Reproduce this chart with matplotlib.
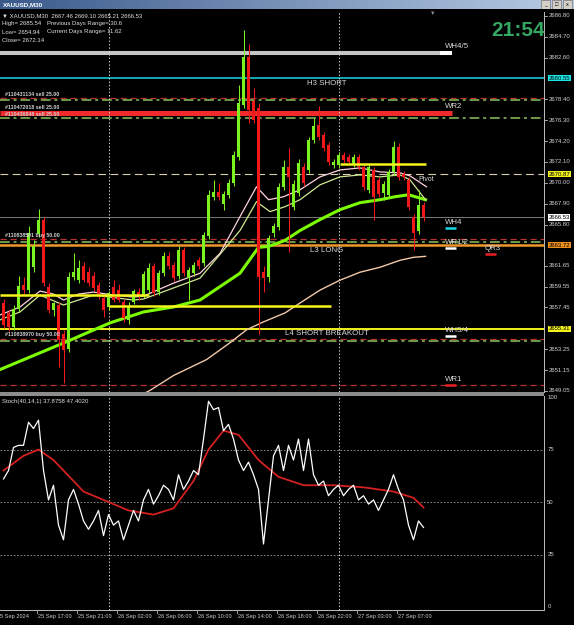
import matplotlib
matplotlib.use("Agg")
import matplotlib.pyplot as plt
import matplotlib.transforms as mtransforms
from matplotlib.patches import Rectangle
from matplotlib.colors import LinearSegmentedColormap
import numpy as np

plt.rcParams['font.family'] = ['Liberation Sans', 'DejaVu Sans']

# XAUUSD M30 candles (bar 0 = 25 Sep 13:00)
opens = [2657.9, 2656.9, 2655.5, 2657.3, 2659.7, 2659.2, 2661.5, 2664.8, 2666.3, 2659.5,
         2657.2, 2657.7, 2654.8, 2653.3, 2660.5, 2660.2, 2661.6, 2661.0, 2660.6, 2659.7,
         2658.4, 2657.5, 2659.5, 2659.2, 2658.0, 2656.2, 2658.0, 2659.0, 2658.7, 2659.2,
         2661.6, 2659.0, 2660.9, 2662.6, 2661.7, 2660.6, 2663.2, 2660.4, 2660.9, 2662.2,
         2661.9, 2664.6, 2668.6, 2669.1, 2667.9, 2668.8, 2670.0, 2672.6, 2677.8, 2682.7,
         2678.2, 2677.5, 2661.0, 2660.5, 2664.9, 2665.6, 2669.6, 2671.6, 2667.6, 2669.0,
         2671.6, 2671.3, 2674.3, 2675.8, 2674.8, 2673.8, 2671.8, 2671.8, 2672.8, 2672.6,
         2671.9, 2672.6, 2671.6, 2669.3, 2671.3, 2670.3, 2669.0, 2668.8, 2671.1, 2673.6,
         2670.9, 2670.3, 2666.6, 2665.1, 2667.8]
highs = [2658.3, 2657.2, 2657.7, 2660.6, 2660.5, 2665.7, 2664.2, 2667.4, 2666.6, 2659.9,
         2658.0, 2658.0, 2655.2, 2661.0, 2662.9, 2662.2, 2662.0, 2661.5, 2661.0, 2660.0,
         2658.7, 2659.1, 2660.2, 2659.8, 2658.3, 2658.0, 2659.3, 2659.4, 2661.1, 2661.9,
         2661.9, 2661.2, 2663.0, 2663.0, 2662.0, 2663.6, 2663.5, 2661.5, 2662.0, 2662.5,
         2665.0, 2669.3, 2670.3, 2670.0, 2669.2, 2670.4, 2673.2, 2679.9, 2685.4, 2684.0,
         2679.5, 2678.0, 2661.6, 2664.7, 2666.0, 2670.0, 2672.3, 2673.5, 2670.3, 2672.4,
         2672.0, 2674.6, 2676.5, 2677.7, 2675.1, 2674.1, 2672.4, 2673.1, 2673.1, 2672.9,
         2672.9, 2672.9, 2671.9, 2671.9, 2671.6, 2670.6, 2670.2, 2671.4, 2674.2, 2674.0,
         2671.2, 2670.6, 2666.9, 2669.3, 2668.1]
lows = [2655.4, 2655.1, 2655.2, 2657.0, 2658.8, 2658.9, 2661.0, 2664.5, 2659.6, 2656.9,
        2656.6, 2651.5, 2649.8, 2653.0, 2660.2, 2659.9, 2660.0, 2659.6, 2659.1, 2658.3,
        2656.5, 2657.2, 2658.0, 2658.0, 2656.0, 2655.8, 2657.8, 2658.2, 2658.4, 2658.9,
        2658.6, 2658.7, 2660.6, 2661.3, 2660.1, 2660.3, 2660.6, 2658.2, 2660.6, 2661.3,
        2661.6, 2664.3, 2668.3, 2668.3, 2667.3, 2668.5, 2669.7, 2672.3, 2677.5, 2676.0,
        2676.0, 2654.8, 2659.0, 2660.0, 2664.5, 2665.3, 2669.3, 2663.0, 2667.3, 2668.7,
        2669.7, 2671.0, 2674.0, 2674.3, 2673.2, 2671.8, 2671.5, 2671.5, 2672.0, 2671.8,
        2671.6, 2671.3, 2669.3, 2669.0, 2666.3, 2668.6, 2668.3, 2668.5, 2670.8, 2670.3,
        2670.3, 2667.3, 2663.2, 2664.8, 2666.2]
closes = [2655.7, 2655.5, 2657.3, 2659.6, 2659.2, 2664.9, 2663.6, 2666.3, 2659.9, 2657.2,
          2657.9, 2654.2, 2653.2, 2660.5, 2661.0, 2661.4, 2660.2, 2659.9, 2659.4, 2658.6,
          2657.2, 2658.9, 2658.2, 2658.2, 2656.4, 2657.6, 2659.1, 2658.6, 2660.8, 2661.4,
          2658.9, 2660.9, 2662.6, 2661.6, 2660.4, 2663.2, 2660.9, 2661.2, 2661.7, 2661.6,
          2664.7, 2668.8, 2669.1, 2668.6, 2668.9, 2670.0, 2672.8, 2678.0, 2682.7, 2677.3,
          2676.3, 2660.5, 2660.4, 2664.4, 2665.7, 2669.6, 2671.6, 2670.6, 2669.9, 2672.0,
          2670.0, 2674.3, 2675.7, 2674.6, 2673.5, 2672.1, 2672.1, 2672.8, 2672.3, 2672.1,
          2672.6, 2671.6, 2669.6, 2671.6, 2668.6, 2668.9, 2669.9, 2671.1, 2673.6, 2670.6,
          2670.6, 2667.6, 2664.9, 2667.8, 2666.53]

# moving averages, sampled along the curves (bar index, price)
ma_fast_x = [-0.7, 3.3, 7.3, 10, 12, 15, 18, 22, 26, 28, 34, 39.3, 43.3, 47.3, 50.6,
             53, 56, 59.3, 63.3, 67.3, 71.3, 75.3, 79.3, 81.3, 84.6]
ma_fast_y = [2656.7, 2657.5, 2659.1, 2658.8, 2658.2, 2658.8, 2659.0, 2658.7, 2658.5, 2658.6,
             2659.9, 2660.9, 2662.9, 2666.6, 2669.6, 2668.3, 2668.6, 2669.3, 2670.6, 2671.3,
             2671.5, 2671.1, 2671.0, 2670.7, 2669.6]
ma_mid_x = [-0.7, 3.3, 7.3, 12, 18, 26, 28, 39.3, 47.3, 50.6, 53.3, 56.3, 59.3, 63.3,
            67.3, 71.3, 75.3, 79.3, 81.3, 84.4]
ma_mid_y = [2656.2, 2657.0, 2658.7, 2657.7, 2658.7, 2658.2, 2658.3, 2660.4, 2665.2, 2668.1,
            2667.1, 2667.6, 2668.3, 2669.8, 2670.6, 2670.8, 2670.6, 2670.8, 2670.3, 2668.3]
ma_slow_x = [-0.7, 12.6, 21.3, 28, 34, 39.3, 47.3, 51, 53, 56.3, 59.3, 63.3, 67.3, 71.3,
             75.3, 78.3, 81, 84.4]
ma_slow_y = [2651.2, 2654.0, 2655.9, 2657.0, 2657.5, 2658.2, 2660.9, 2663.5, 2663.6, 2664.2,
             2665.2, 2666.3, 2667.3, 2668.0, 2668.3, 2668.6, 2668.8, 2668.3]
ma_long_x = [22, 27, 29.3, 34, 40.6, 45.3, 48.6, 52, 56.3, 59.3, 63.3, 67.3, 71.3, 75.3,
             79.3, 82, 84.4]
ma_long_y = [2647.0, 2648.5, 2649.1, 2650.6, 2652.2, 2653.9, 2655.2, 2656.0, 2656.9, 2657.9,
             2659.2, 2660.2, 2661.0, 2661.5, 2662.2, 2662.5, 2662.6]

# Stoch(40,14,1): main line per bar, signal line sampled
stoch_main = [61, 65, 76, 77, 77, 88, 85, 89, 65, 51, 58, 39, 32, 51, 56, 49, 41, 37, 41, 46,
              34, 44, 39, 41, 32, 39, 46, 41, 51, 56, 49, 53, 58, 56, 51, 63, 56, 60, 65, 63,
              80, 98, 94, 95, 84, 87, 80, 70, 65, 69, 63, 56, 30, 51, 72, 77, 65, 77, 70, 80,
              65, 80, 63, 58, 60, 53, 56, 58, 53, 56, 58, 51, 53, 49, 51, 46, 51, 56, 63, 56,
              51, 39, 32, 41, 37.88]
stoch_sig_x = [0, 4, 7, 10, 16, 20, 25, 30, 34, 38, 41, 44, 47, 51, 55, 60, 66, 72, 78, 82, 84]
stoch_sig_y = [65, 72, 75, 70, 55, 51, 46, 44, 47, 60, 75, 84, 82, 70, 62, 58, 58, 57, 55, 52, 47.4]

# levels drawn by the indicators
wh45 = 2683.07
h3_short = 2680.55
wr2 = 2677.03
pivot = 2670.87
bid = 2666.53
l3_long = 2663.72
l4_break = 2655.31
red_dash = [2678.55, 2664.34, 2654.30, 2649.64]
green_dashdot = [2678.30, 2676.53, 2664.09, 2654.07]
yellow_y = [2658.70, 2657.60, 2671.90]
yellow_x0 = [-0.7, 21, 67.3]
yellow_x1 = [29, 65.5, 84.5]

price_ticks = [2686.80, 2684.70, 2682.60, 2678.40, 2676.30, 2674.20, 2672.10, 2670.00,
               2667.90, 2665.80, 2661.65, 2659.55, 2657.45, 2653.25, 2651.15, 2649.05]
boxed_prices = [h3_short, pivot, bid, l3_long, l4_break]
boxed_colors = ['#19e6e6', '#f2f21a', '#ffffff', '#f0901e', '#f2f21a']

time_pos = [7, 15, 23, 31, 39, 47, 55, 63, 71, 79]
time_labels = ['25 Sep 17:00', '25 Sep 21:00', '26 Sep 02:00', '26 Sep 06:00', '26 Sep 10:00',
               '26 Sep 14:00', '26 Sep 18:00', '26 Sep 22:00', '27 Sep 03:00', '27 Sep 07:00']
day_breaks = [21, 67]

W, H = 574, 625


def fbox(x0, y0, x1, y1):
    return [x0 / W, 1 - y1 / H, (x1 - x0) / W, (y1 - y0) / H]


def fpt(x, y):
    return x / W, 1 - y / H


fig = plt.figure(figsize=(W / 100, H / 100), dpi=100)
fig.patch.set_facecolor('black')

# window title bar
tb = fig.add_axes(fbox(0, 0, W, 9))
cmap = LinearSegmentedColormap.from_list('tb', ['#3a5a8c', '#b8cce4'])
tb.imshow(np.linspace(0, 1, 256)[None, :], aspect='auto', cmap=cmap, extent=(0, 1, 0, 1))
tb.set_xlim(0, 1)
tb.set_ylim(0, 1)
tb.axis('off')
tb.text(0.005, 0.5, 'XAUUSD,M30', color='white', fontsize=4.5, weight='bold', va='center')
for k, s in enumerate(['_', '□', 'x']):
    x0 = (541 + k * 11) / W
    tb.add_patch(Rectangle((x0, 0.05), 9 / W, 0.9, fc='#d4d0c8', ec='#606060', lw=0.4))
    tb.text(x0 + 4.5 / W, 0.45, s, fontsize=4, ha='center', va='center', color='black')

# ---------------- main price panel ----------------
ax = fig.add_axes(fbox(0, 12, 544, 392))
ax.set_xlim(-0.7, 108.1)
ax.set_ylim(2648.94, 2687.20)
ax.axis('off')

for y in red_dash:
    ax.axhline(y, color='#b83030', lw=0.9, ls=(0, (5, 3)), zorder=1)
for y in green_dashdot:
    ax.axhline(y, color='#6f9a4a', lw=1.4, ls=(0, (5, 2, 1.5, 2)), zorder=1)
ax.plot([-0.7, 89.7], [wh45, wh45], color='#c4c4c4', lw=2.9, solid_capstyle='butt', zorder=1)
ax.plot([-0.7, 89.7], [wr2, wr2], color='#f02a2a', lw=3.6, solid_capstyle='butt', zorder=1)
ax.axhline(h3_short, color='#19d9e6', lw=1.1, zorder=1)
ax.axhline(pivot, color='#d9cfae', lw=0.8, ls=(0, (7, 4)), zorder=1)
ax.axhline(bid, color='#8c8c8c', lw=0.6, zorder=1)
ax.axhline(l3_long, color='#f0962a', lw=1.8, zorder=1)
ax.axhline(l4_break, color='#f2f21a', lw=1.4, zorder=1)
for y, a, b in zip(yellow_y, yellow_x0, yellow_x1):
    ax.plot([a, b], [y, y], color='#f5f51a', lw=1.8, solid_capstyle='butt', zorder=4)

for b in day_breaks:
    ax.axvline(b, color='#d0d0d0', lw=0.7, ls=(0, (1.5, 2)), zorder=1)

# moving averages
ax.plot(ma_long_x, ma_long_y, color='#f2c8a8', lw=1.0, zorder=2)
ax.plot(ma_slow_x, ma_slow_y, color='#7cfc00', lw=2.2, zorder=2)
ax.plot(ma_mid_x, ma_mid_y, color='#cfe98e', lw=0.9, zorder=2)
ax.plot(ma_fast_x, ma_fast_y, color='#ffd2dc', lw=0.9, zorder=2)

# candles
idx = np.arange(len(opens))
o = np.array(opens)
c = np.array(closes)
col = np.where(c >= o, '#7cf21e', '#f01818')
ax.vlines(idx, lows, highs, colors=col, lw=0.75, zorder=3)
body = np.maximum(np.abs(c - o), 0.08)
ax.bar(idx, body, bottom=np.minimum(o, c), width=0.62, color=col, zorder=3)

# level labels and markers
lab = dict(color='#d8d8d8', fontsize=5.7, zorder=6)
ax.text(88.3, wh45 + 0.35, 'WH4/5', va='bottom', **lab)
ax.plot([87.3, 89.7], [wh45, wh45], color='white', lw=2.9, solid_capstyle='butt', zorder=5)
ax.text(88.3, wr2 + 0.3, 'WR2', va='bottom', **lab)
ax.text(64.6, h3_short - 0.2, 'H3 SHORT', ha='center', va='top', **lab)
ax.text(64.6, l3_long - 0.2, 'L3 LONG', ha='center', va='top', **lab)
ax.text(64.6, l4_break - 0.15, 'L4 SHORT BREAKOUT', ha='center', va='top', **lab)
ax.text(82.9, pivot - 0.5, 'Pivot', va='center', color='#d8d8d8', fontsize=5, zorder=6)
markers = [(88.3, 2665.45, '#19d9e6', 'WH4'), (88.3, 2663.44, '#ffffff', 'WR1/2'),
           (96.3, 2662.83, '#e82020', 'QR3'), (88.3, 2654.57, '#ffffff', 'WH3/4'),
           (88.3, 2649.64, '#e82020', 'WR1')]
for x, y, mc, t in markers:
    ax.plot([x, x + 2.2], [y, y], color=mc, lw=1.8, solid_capstyle='butt', zorder=5)
    ax.text(x, y + 0.2, t, va='bottom', **lab)

orders = [(2678.64, '#110431134 sell 25.00'), (2677.33, '#110472018 sell 25.00'),
          (2676.63, '#110436848 sell 25.00'), (2664.44, '#110838591 buy 50.00'),
          (2654.47, '#110838970 buy 50.00')]
for y, t in orders:
    ax.text(0.3, y, t, fontsize=3.8, color='#d0d0d0', va='bottom', weight='bold', zorder=6)

# right price scale
tr = mtransforms.blended_transform_factory(ax.transAxes, ax.transData)
ax.plot([1, 1], [0, 1], transform=ax.transAxes, color='#bdbdbd', lw=0.7, clip_on=False)
for p in price_ticks:
    ax.plot([1, 1.006], [p, p], transform=tr, color='#bdbdbd', lw=0.6, clip_on=False)
    ax.text(1.008, p, f'{p:.2f}', transform=tr, fontsize=4.3, color='#d0d0d0',
            va='center', clip_on=False)
for p, bc in zip(boxed_prices, boxed_colors):
    ax.text(1.008, p, f'{p:.2f}', transform=tr, fontsize=4.3, color='black', va='center',
            clip_on=False, bbox=dict(boxstyle='square,pad=0.12', fc=bc, ec='none'))

# header info
hdr = dict(color='#e0e0e0', fontsize=4.3, va='center')
fig.text(*fpt(2, 16), '▼ XAUUSD,M30  2667.46 2669.10 2665.21 2666.53', **hdr)
fig.text(*fpt(2, 24), 'High= 2685.54', **hdr)
fig.text(*fpt(47, 24), 'Previous Days Range= 30.6', **hdr)
fig.text(*fpt(2, 32), 'Low= 2654.94', **hdr)
fig.text(*fpt(47, 32), 'Current Days Range= 11.62', **hdr)
fig.text(*fpt(2, 40), 'Close= 2672.14', **hdr)
fig.text(*fpt(491, 31), '21:54', color='#34a862', fontsize=15, weight='bold', va='center')
fig.text(*fpt(433, 13), '▼', color='#909090', fontsize=4, ha='center', va='center')

# separator between panels
fig.add_artist(Rectangle(fpt(0, 396), 544 / W, 4 / H, transform=fig.transFigure,
                         fc='#8c8c8c', ec='none'))

# ---------------- stochastic panel ----------------
st = fig.add_axes(fbox(0, 396, 544, 610))
st.set_xlim(-0.7, 108.1)
st.set_ylim(-1.43, 100.5)
st.axis('off')
for lv in [75, 50, 25]:
    st.axhline(lv, color='#9a9a9a', lw=0.6, ls=(0, (2, 2)))
for b in day_breaks:
    st.axvline(b, color='#d0d0d0', lw=0.7, ls=(0, (1.5, 2)))
st.plot(stoch_sig_x, stoch_sig_y, color='#d42020', lw=1.3)
st.plot(np.arange(len(stoch_main)), stoch_main, color='white', lw=0.9)
st.text(0.004, 0.985, 'Stoch(40,14,1) 37.8758 47.4020', transform=st.transAxes,
        color='#e0e0e0', fontsize=4.3, va='top')
st.plot([1, 1, 0], [1, 0, 0], transform=st.transAxes, color='#bdbdbd', lw=0.7, clip_on=False)
trs = mtransforms.blended_transform_factory(st.transAxes, st.transData)
for lv in [100, 75, 50, 25, 0]:
    st.text(1.006, lv, str(lv), transform=trs, fontsize=4.3, color='#d0d0d0',
            va='center', clip_on=False)

# time axis
trt = mtransforms.blended_transform_factory(st.transData, st.transAxes)
st.text(-0.7, -0.03, '5 Sep 2024', transform=trt, fontsize=4.1, color='#d0d0d0',
        va='center', clip_on=False)
for p, t in zip(time_pos, time_labels):
    st.plot([p - 0.4, p - 0.4], [0, -0.012], transform=trt, color='#bdbdbd', lw=0.6,
            clip_on=False)
    st.text(p, -0.03, t, transform=trt, fontsize=4.1, color='#d0d0d0', va='center',
            clip_on=False)

fig.savefig('out.png', dpi=100, facecolor='black')
